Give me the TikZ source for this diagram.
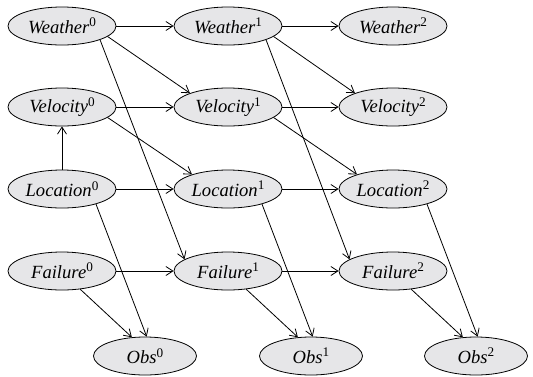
\documentclass[tikz,border=0pt]{standalone}
\usepackage{fontspec}
\setmainfont{Liberation Serif}
\usetikzlibrary{shapes.geometric,arrows.meta}
\definecolor{nodefill}{RGB}{230,230,232}
\newcommand\lbl[2]{\scalebox{1.86}{\textit{#1}}\raisebox{6.6pt}{\scalebox{1.32}{#2}}}
\tikzset{
  var/.style={ellipse, draw=black, line width=0.8pt, fill=nodefill, minimum width=108pt, minimum height=38pt, inner sep=0pt},
  obs/.style={var, minimum width=103pt},
  edge/.style={line width=0.8pt, -{Straight Barb[length=7pt,width=9pt]}}
}
\begin{document}
\begin{tikzpicture}[x=1pt,y=-1pt]
\useasboundingbox (0,0) rectangle (533,376);
% columns 62, 228, 393 ; rows 26, 107, 189, 271, 356
\node[var] (W0) at (62,26) {\lbl{Weather}{0}};
\node[var] (W1) at (228,26) {\lbl{Weather}{1}};
\node[var] (W2) at (393,26) {\lbl{Weather}{2}};
\node[var] (V0) at (62,107) {\lbl{Velocity}{0}};
\node[var] (V1) at (228,107) {\lbl{Velocity}{1}};
\node[var] (V2) at (393,107) {\lbl{Velocity}{2}};
\node[var] (L0) at (62,189) {\lbl{Location}{0}};
\node[var] (L1) at (228,189) {\lbl{Location}{1}};
\node[var] (L2) at (393,189) {\lbl{Location}{2}};
\node[var] (F0) at (62,271) {\lbl{Failure}{0}};
\node[var] (F1) at (228,271) {\lbl{Failure}{1}};
\node[var] (F2) at (393,271) {\lbl{Failure}{2}};
\node[obs] (O0) at (145,356) {\lbl{Obs}{0}};
\node[obs] (O1) at (311,356) {\lbl{Obs}{1}};
\node[obs] (O2) at (476,356) {\lbl{Obs}{2}};

% horizontal
\foreach \r in {W,V,L,F}{
  \draw[edge] (\r0.east) -- (\r1.west);
  \draw[edge] (\r1.east) -- (\r2.west);
}
% location -> velocity (slice 0)
\draw[edge] (L0.north) -- (V0.south);
% weather -> velocity
\draw[edge] (W0.-13) -- (V1.160);
\draw[edge] (W1.-13) -- (V2.160);
% weather -> failure
\draw[edge] (W0.-20) -- (F1.165);
\draw[edge] (W1.-20) -- (F2.165);
% velocity -> location
\draw[edge] (V0.-13) -- (L1.158);
\draw[edge] (V1.-13) -- (L2.158);
% location -> obs
\draw[edge] (L0.-24) -- (O0.85);
\draw[edge] (L1.-24) -- (O1.85);
\draw[edge] (L2.-24) -- (O2.85);
% failure -> obs
\draw[edge] (F0.-45) -- (O0.125);
\draw[edge] (F1.-45) -- (O1.125);
\draw[edge] (F2.-45) -- (O2.125);
\end{tikzpicture}
\end{document}
